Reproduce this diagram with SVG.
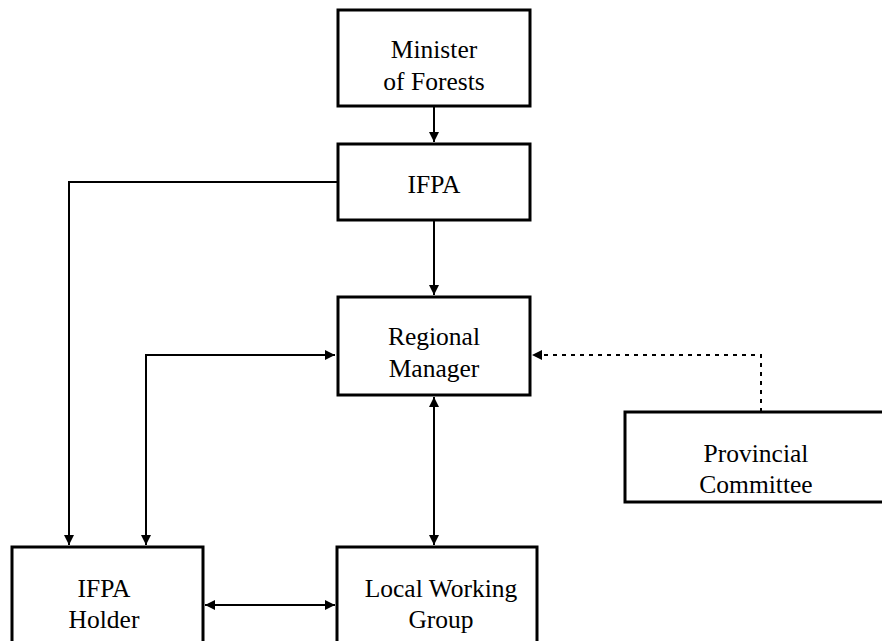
<svg xmlns="http://www.w3.org/2000/svg" width="882" height="641" viewBox="0 0 882 641">
<style>
.box{fill:#fff;stroke:#000;stroke-width:3}
.t{font-family:"Liberation Serif","Times New Roman",serif;font-size:25.5px;fill:#000;text-anchor:middle}
.c{fill:none;stroke:#000;stroke-width:2}
.d{fill:none;stroke:#000;stroke-width:2;stroke-dasharray:4 5}
</style>
<defs>
<marker id="ah" viewBox="0 0 10 10" refX="10" refY="5" markerWidth="10" markerHeight="10" markerUnits="userSpaceOnUse" orient="auto-start-reverse">
<path d="M0,0 L10,5 L0,10 Z" fill="#000"/>
</marker>
</defs>
<rect width="882" height="641" fill="#fff"/>
<g id="connectors">
<line class="c" x1="434" y1="106" x2="434" y2="142" marker-end="url(#ah)"/>
<line class="c" x1="434" y1="220" x2="434" y2="295" marker-end="url(#ah)"/>
<polyline class="c" points="338,182 69,182 69,545" marker-end="url(#ah)"/>
<polyline class="c" points="146,545 146,355 335,355" marker-start="url(#ah)" marker-end="url(#ah)"/>
<line class="c" x1="434" y1="397" x2="434" y2="545" marker-start="url(#ah)" marker-end="url(#ah)"/>
<line class="c" x1="205" y1="605" x2="335" y2="605" marker-start="url(#ah)" marker-end="url(#ah)"/>
<polyline class="d" points="761,412 761,355 540,355"/>
<path d="M532,355 L542,350 L542,360 Z" fill="#000"/>
</g>
<g id="minister">
<rect class="box" x="338" y="10" width="192" height="96"/>
<text class="t" x="434" y="58">Minister</text>
<text class="t" x="434" y="90">of Forests</text>
</g>
<g id="ifpa">
<rect class="box" x="338" y="144" width="192" height="76"/>
<text class="t" x="434" y="193">IFPA</text>
</g>
<g id="regional-manager">
<rect class="box" x="338" y="297" width="192" height="98"/>
<text class="t" x="434" y="345">Regional</text>
<text class="t" x="434" y="377">Manager</text>
</g>
<g id="provincial-committee">
<rect class="box" x="625" y="412" width="265" height="90"/>
<text class="t" x="756" y="462">Provincial</text>
<text class="t" x="756" y="493">Committee</text>
</g>
<g id="ifpa-holder">
<rect class="box" x="12" y="547" width="191" height="110"/>
<text class="t" x="104" y="597">IFPA</text>
<text class="t" x="104" y="628">Holder</text>
</g>
<g id="local-working-group">
<rect class="box" x="337" y="547" width="200" height="110"/>
<text class="t" x="441" y="597">Local Working</text>
<text class="t" x="441" y="628">Group</text>
</g>
</svg>
